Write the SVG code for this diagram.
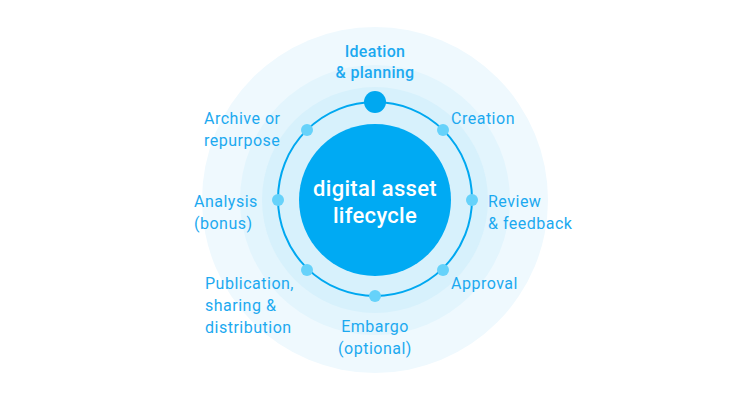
<svg xmlns="http://www.w3.org/2000/svg" width="750" height="400" viewBox="0 0 750 400">
<style>
.lbl{font-family:Roboto,"Liberation Sans",sans-serif;font-size:16px;letter-spacing:0.5px;fill:#1ca9f0}
.bold{font-weight:500;letter-spacing:0.3px}
.ctr{font-family:Roboto,"Liberation Sans",sans-serif;font-size:22px;font-weight:500;letter-spacing:0.3px;fill:#ffffff}
.dot{fill:#66d2fa}
</style>
<rect width="750" height="400" fill="#ffffff"/>
<g id="halo">
<circle cx="375" cy="200" r="173" fill="#eff9fe"/>
<circle cx="375" cy="200" r="135" fill="#e3f5fd"/>
<circle cx="375" cy="200" r="113" fill="#d7f1fc"/>
</g>
<g id="connectors">
<circle cx="375" cy="199" r="97" fill="none" stroke="#00a8f0" stroke-width="2"/>
</g>
<g id="center">
<circle cx="375" cy="200" r="76" fill="#00aaf3"/>
<text class="ctr" x="375" y="196" text-anchor="middle">digital asset</text>
<text class="ctr" x="375" y="223" text-anchor="middle">lifecycle</text>
</g>
<g id="ideation">
<circle cx="375" cy="102" r="11" fill="#00a8f0"/>
<text class="lbl bold" x="375" y="57" text-anchor="middle">Ideation</text>
<text class="lbl bold" x="375" y="78" text-anchor="middle">&amp; planning</text>
</g>
<g id="creation">
<circle class="dot" cx="443" cy="130" r="6"/>
<text class="lbl" x="451" y="124">Creation</text>
</g>
<g id="review">
<circle class="dot" cx="472" cy="200" r="6"/>
<text class="lbl" x="488" y="207">Review</text>
<text class="lbl" x="488" y="229">&amp; feedback</text>
</g>
<g id="approval">
<circle class="dot" cx="443" cy="270" r="6"/>
<text class="lbl" x="451" y="289">Approval</text>
</g>
<g id="embargo">
<circle class="dot" cx="375" cy="296" r="6"/>
<text class="lbl" x="375" y="332" text-anchor="middle">Embargo</text>
<text class="lbl" x="375" y="354" text-anchor="middle">(optional)</text>
</g>
<g id="publication">
<circle class="dot" cx="307" cy="270" r="6"/>
<text class="lbl" x="205" y="289">Publication,</text>
<text class="lbl" x="205" y="311">sharing &amp;</text>
<text class="lbl" x="205" y="333">distribution</text>
</g>
<g id="analysis">
<circle class="dot" cx="278" cy="200" r="6"/>
<text class="lbl" x="194" y="207">Analysis</text>
<text class="lbl" x="194" y="229">(bonus)</text>
</g>
<g id="archive">
<circle class="dot" cx="307" cy="130" r="6"/>
<text class="lbl" x="204" y="124">Archive or</text>
<text class="lbl" x="204" y="146">repurpose</text>
</g>
</svg>
